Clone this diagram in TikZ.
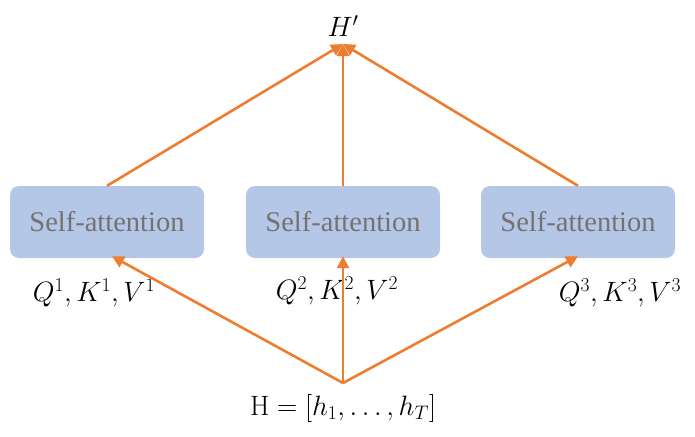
\RequirePackage{fix-cm}
\documentclass[tikz,border=0pt]{standalone}
\usepackage{fontspec}
\newfontfamily\boxfont{Liberation Serif}
\usetikzlibrary{arrows.meta}
\definecolor{boxfill}{HTML}{B4C7E7}
\definecolor{boxtext}{HTML}{767171}
\definecolor{arr}{HTML}{ED7D31}
\tikzset{
  sabox/.style={fill=boxfill, rounded corners=9pt, minimum width=194pt, minimum height=72pt, inner sep=0pt,
    font=\boxfont\fontsize{28.5}{32}\selectfont, text=boxtext},
  lbl/.style={inner sep=0pt, font=\fontsize{28}{32}\selectfont},
  conn/.style={draw=arr, line width=2.6pt, -{Triangle[length=12pt,width=12pt]}}
}
\begin{document}
\begin{tikzpicture}[x=1pt,y=-1pt]
\useasboundingbox (0,0) rectangle (695,436);
\node[sabox] (b1) at (107,222) {Self-attention};
\node[sabox] (b2) at (343,222) {Self-attention};
\node[sabox] (b3) at (578,222) {Self-attention};
\node[lbl] (hp) at (343,26) {$H'$};
\node[lbl] (hin) at (343,408) {$\mathrm{H}=[h_1,\ldots,h_T]$};
\node[lbl] (q1) at (94,293) {$Q^1,K^1,V^1$};
\node[lbl] (q2) at (337,291) {$Q^2,K^2,V^2$};
\node[lbl] (q3) at (620,293) {$Q^3,K^3,V^3$};
\coordinate (top) at (343,44);
\coordinate (bot) at (343,383);
\draw[conn] (b1.north) -- (top);
\draw[conn] (b2.north) -- (top);
\draw[conn] (b3.north) -- (top);
\draw[conn] (bot) -- ([xshift=5pt,yshift=2pt]b1.south);
\draw[conn] (bot) -- ([yshift=2pt]b2.south);
\draw[conn] (bot) -- ([yshift=2pt]b3.south);
\end{tikzpicture}
\end{document}
